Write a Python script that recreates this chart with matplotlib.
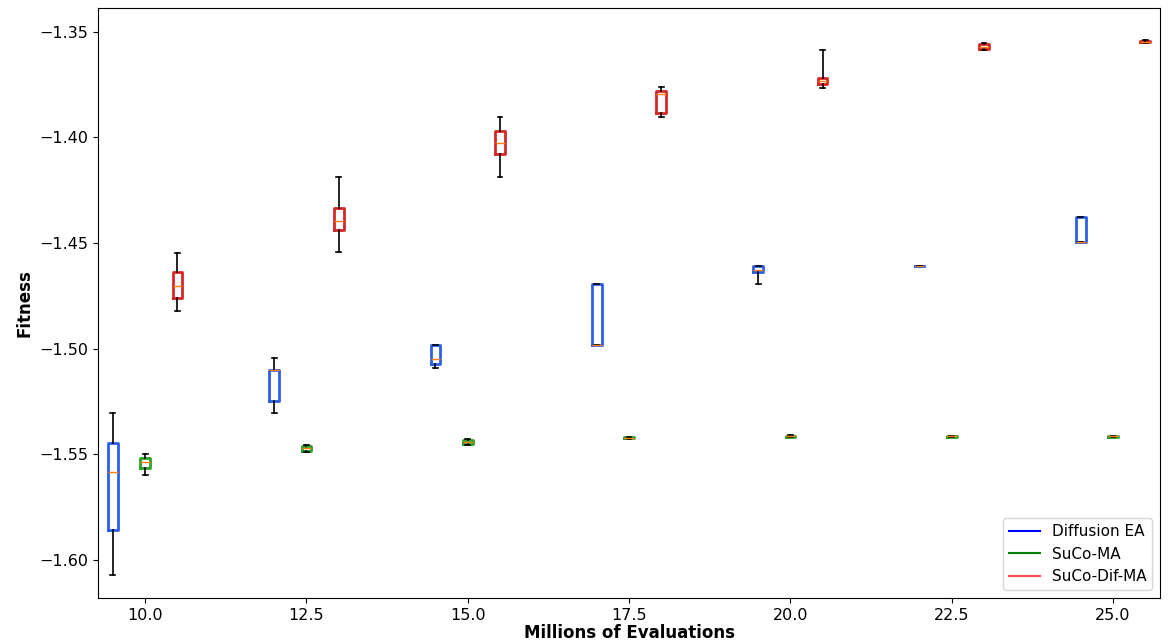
import matplotlib
matplotlib.use('Agg')
import matplotlib.pyplot as plt
from matplotlib.lines import Line2D

# positions (millions of evaluations) for each algorithm
diffusion_pos = [9.5, 12.0, 14.5, 17.0, 19.5, 22.0, 24.5]
suco_pos = [10.0, 12.5, 15.0, 17.5, 20.0, 22.5, 25.0]
sucodif_pos = [10.5, 13.0, 15.5, 18.0, 20.5, 23.0, 25.5]

# box stats: whislo, q1, med, q3, whishi
diffusion_whislo = [-1.607, -1.5304, -1.5093, -1.4983, -1.4694, -1.4607, -1.4497]
diffusion_q1 = [-1.5857, -1.5246, -1.5072, -1.4983, -1.4637, -1.4607, -1.4497]
diffusion_med = [-1.5584, -1.5099, -1.5047, -1.4983, -1.4628, -1.4607, -1.4497]
diffusion_q3 = [-1.5446, -1.5099, -1.4981, -1.4696, -1.4609, -1.4607, -1.4377]
diffusion_whishi = [-1.5304, -1.5042, -1.4981, -1.4696, -1.4609, -1.4607, -1.4377]

suco_whislo = [-1.5600, -1.5490, -1.5458, -1.5428, -1.5420, -1.5418, -1.5418]
suco_q1 = [-1.5565, -1.5482, -1.5450, -1.5425, -1.5418, -1.5417, -1.5417]
suco_med = [-1.5538, -1.5472, -1.5441, -1.5423, -1.5415, -1.5415, -1.5415]
suco_q3 = [-1.5518, -1.5462, -1.5433, -1.5420, -1.5412, -1.5413, -1.5413]
suco_whishi = [-1.5497, -1.5455, -1.5427, -1.5418, -1.5410, -1.5412, -1.5412]

sucodif_whislo = [-1.4822, -1.4544, -1.4189, -1.3901, -1.3767, -1.3587, -1.3552]
sucodif_q1 = [-1.4759, -1.4438, -1.4080, -1.3886, -1.3746, -1.3580, -1.3550]
sucodif_med = [-1.4704, -1.4396, -1.4027, -1.3794, -1.3731, -1.3570, -1.3547]
sucodif_q3 = [-1.4636, -1.4333, -1.3969, -1.3780, -1.3717, -1.3560, -1.3543]
sucodif_whishi = [-1.4549, -1.4189, -1.3904, -1.3759, -1.3585, -1.3553, -1.3541]

labels = ['Diffusion EA', 'SuCo-MA', 'SuCo-Dif-MA']
box_colors = ['#2a5fe8', '#2ca02c', '#d62728']
legend_colors = ['blue', 'green', '#ff4d4d']


def make_stats(lo, q1, med, q3, hi):
    stats = []
    for i in range(len(med)):
        stats.append({'whislo': lo[i], 'q1': q1[i], 'med': med[i],
                      'q3': q3[i], 'whishi': hi[i], 'fliers': []})
    return stats


fig = plt.figure(figsize=(11.71, 6.43), dpi=100)
ax = fig.add_axes([0.0837, 0.070, 0.907, 0.918])

groups = [
    (diffusion_pos, make_stats(diffusion_whislo, diffusion_q1, diffusion_med, diffusion_q3, diffusion_whishi)),
    (suco_pos, make_stats(suco_whislo, suco_q1, suco_med, suco_q3, suco_whishi)),
    (sucodif_pos, make_stats(sucodif_whislo, sucodif_q1, sucodif_med, sucodif_q3, sucodif_whishi)),
]

for (pos, stats), col in zip(groups, box_colors):
    ax.bxp(stats, positions=pos, widths=0.15, showfliers=False, manage_ticks=False,
           boxprops=dict(color=col, linewidth=2),
           medianprops=dict(color='#ff7f0e', linewidth=1),
           whiskerprops=dict(color='black', linewidth=1.2),
           capprops=dict(color='black', linewidth=1.2))

ax.set_xlim(9.27, 25.73)
ax.set_ylim(-1.618, -1.3386)
ax.set_xticks([10.0, 12.5, 15.0, 17.5, 20.0, 22.5, 25.0])
ax.set_yticks([-1.60, -1.55, -1.50, -1.45, -1.40, -1.35])
ax.tick_params(labelsize=11.5)
ax.set_xlabel('Millions of Evaluations', fontsize=12, fontweight='bold', labelpad=1)
ax.set_ylabel('Fitness', fontsize=12, fontweight='bold')

handles = [Line2D([0], [0], color=c, linewidth=1.5) for c in legend_colors]
ax.legend(handles, labels, loc='lower right', fontsize=11)

fig.savefig('out.png', dpi=100)
